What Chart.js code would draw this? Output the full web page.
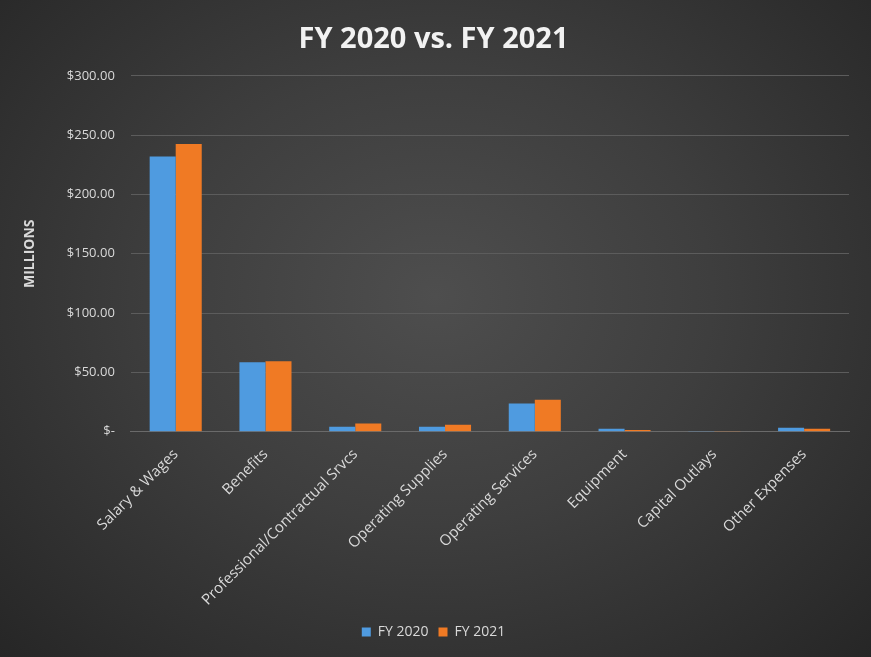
<!DOCTYPE html>
<html>
<head>
<meta charset="utf-8">
<script src="https://cdn.jsdelivr.net/npm/chart.js@4.4.1/dist/chart.umd.min.js"></script>
<style>
  html, body { margin: 0; padding: 0; }
  body { width: 871px; height: 657px; overflow: hidden; }
  #wrap {
    width: 871px; height: 657px; position: relative;
    background: radial-gradient(ellipse at 50% 45%, #4e4e4e 0%, #3e3e3e 45%, #262626 100%);
  }
</style>
</head>
<body>
<div id="wrap"><canvas id="chart" width="871" height="657"></canvas></div>
<script>
const categories = [
  "Salary & Wages", "Benefits", "Professional/Contractual Srvcs", "Operating Supplies",
  "Operating Services", "Equipment", "Capital Outlays", "Other Expenses",
];
const fy2020 = [232.0, 58.5, 4.2, 4.2, 23.7, 2.5, 0.5, 3.4];
const fy2021 = [242.5, 59.3, 6.8, 5.9, 27.0, 1.3, 0.5, 2.5];
const yTicks = [0, 50, 100, 150, 200, 250, 300];

const font = "'Open Sans', 'Noto Sans', sans-serif";
const textColor = "#d9d9d9";

function money(v) {
  if (v === 0) return "$-";
  return "$" + v.toFixed(2);
}

new Chart(document.getElementById("chart"), {
  type: "bar",
  data: {
    labels: categories,
    datasets: [
      { label: "FY 2020", data: fy2020, backgroundColor: "#4f9be0", borderWidth: 0 },
      { label: "FY 2021", data: fy2021, backgroundColor: "#f07a24", borderWidth: 0 },
    ],
  },
  options: {
    responsive: false,
    animation: false,
    layout: { padding: { left: 18, right: 22, top: 12, bottom: 8 } },
    datasets: { bar: { categoryPercentage: 0.58, barPercentage: 1.0 } },
    plugins: {
      title: {
        display: true,
        text: "FY 2020 vs. FY 2021",
        color: "#f2f2f2",
        font: { family: font, size: 29, weight: "bold" },
        padding: { top: 10, bottom: 19 },
      },
      legend: {
        position: "bottom",
        labels: {
          color: textColor,
          font: { family: font, size: 14 },
          boxWidth: 9,
          boxHeight: 9,
          padding: 10,
        },
      },
      tooltip: { enabled: false },
    },
    scales: {
      x: {
        grid: { display: false },
        border: { color: "#6a6a6a" },
        ticks: {
          color: textColor,
          font: { family: font, size: 15 },
          maxRotation: 45,
          minRotation: 45,
          autoSkip: false,
          padding: 6,
        },
      },
      y: {
        min: 0,
        max: 300,
        afterBuildTicks: (axis) => { axis.ticks = yTicks.map((v) => ({ value: v })); },
        grid: { color: "#5c5c5c", lineWidth: 1, drawTicks: false },
        border: { display: false },
        ticks: {
          color: textColor,
          font: { family: font, size: 13 },
          padding: 16,
          callback: (v) => money(v),
        },
        title: {
          display: true,
          text: "MILLIONS",
          color: textColor,
          font: { family: font, size: 14, weight: "bold" },
          padding: { bottom: 12 },
        },
      },
    },
  },
});
</script>
</body>
</html>
